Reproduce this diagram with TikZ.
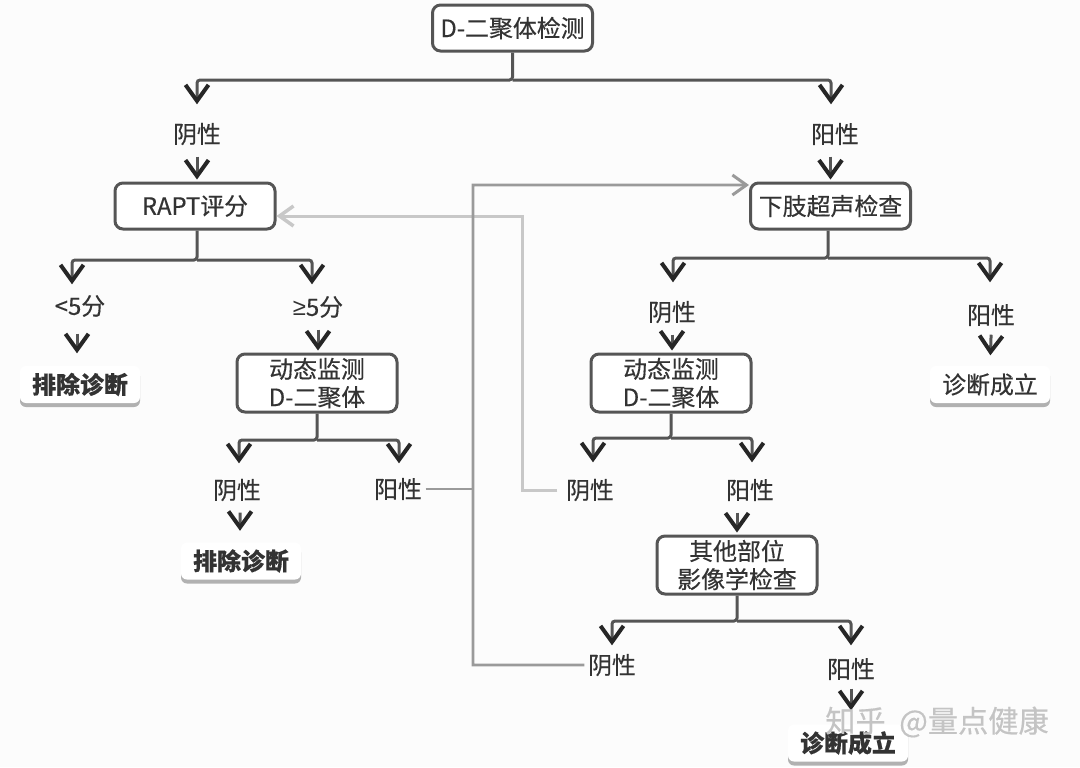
\documentclass[tikz,border=0pt]{standalone}
\usepackage{fontspec}
\setmainfont{Noto Sans CJK SC}[FakeBold=.4]
\newfontfamily\signfont{Liberation Sans}
\usepackage{xcolor}
\usetikzlibrary{arrows.meta, shadows}
\definecolor{inkdark}{HTML}{333333}
\definecolor{linedark}{HTML}{555555}
\definecolor{linemid}{HTML}{9A9A9A}
\definecolor{linelight}{HTML}{C8C8C8}
\definecolor{markgray}{HTML}{C4C4C4}

\begin{document}
\begin{tikzpicture}[
    every node/.style={font=\fontsize{6.8}{8}\selectfont, text=inkdark, align=center},
    test/.style={draw=linedark, line width=.03cm, rounded corners=.08cm, minimum width=1.6cm, minimum height=.46cm, inner sep=0pt, fill=white},
    result/.style={test, minimum height=.58cm},
    verdict/.style={rounded corners=.06cm, minimum width=1.2cm, minimum height=.37cm, inner sep=0pt, fill=white, font=\fontsize{6.8}{8}\selectfont\bfseries,
      drop shadow={shadow xshift=0cm, shadow yshift=-.04cm, fill=gray, opacity=.6}},
    outcome/.style={minimum height=.44cm, inner sep=0pt},
    branch/.style={draw=linedark, line width=.03cm, rounded corners=.03cm, shorten >=.07cm,
      -{Straight Barb[length=.16cm, width=.23cm, line width=.04cm, color=black!85]}},
    onward/.style={branch, shorten >=.02cm},
    again/.style={draw=linemid, line width=.028cm, -{Straight Barb[length=.14cm, width=.2cm, line width=.03cm]}},
    back/.style={draw=linelight, line width=.03cm, -{Straight Barb[length=.14cm, width=.2cm, line width=.035cm]}}
  ]
    \useasboundingbox (0,0) rectangle (10.8,-7.67);
    \fill[white!99!black] (0,0) rectangle (10.8,-7.67);

    \node (dimer) at (5.125,-.28) [test] {D-二聚体检测};
    \node (negA) at (1.97,-1.34) [outcome] {阴性};
    \node (posA) at (8.35,-1.34) [outcome] {阳性};
    \node (rapt) at (1.95,-2.06) [test] {RAPT评分};
    \node (ultra) at (8.305,-2.06) [test] {下肢超声检查};

    \node (low) at (.80,-3.06) [outcome] {<5分};
    \node (high) at (3.18,-3.07) [outcome] {{\signfont ≥}5分};
    \node (ruleA) at (.80,-3.845) [verdict] {排除诊断};
    \node (watchA) at (3.17,-3.83) [result] {动态监测\\D-二聚体};
    \node (negB) at (2.37,-4.90) [outcome] {阴性};
    \node (posB) at (3.98,-4.89) [outcome] {阳性};
    \node (ruleB) at (2.41,-5.61) [verdict] {排除诊断};

    \node (negC) at (6.72,-3.12) [outcome] {阴性};
    \node (posC) at (9.91,-3.15) [outcome] {阳性};
    \node (watchB) at (6.71,-3.83) [result] {动态监测\\D-二聚体};
    \node (confA) at (9.90,-3.845) [verdict, font=\fontsize{6.8}{8}\selectfont] {诊断成立};
    \node (negD) at (5.90,-4.90) [outcome] {阴性};
    \node (posD) at (7.50,-4.90) [outcome] {阳性};
    \node (other) at (7.37,-5.65) [result] {其他部位\\影像学检查};
    \node (negE) at (6.12,-6.65) [outcome] {阴性};
    \node (posE) at (8.51,-6.69) [outcome] {阳性};
    \node (confB) at (8.48,-7.43) [verdict] {诊断成立};

    \coordinate (busDimer) at (5.125,-.80);
    \coordinate (busRapt) at (1.97,-2.60);
    \coordinate (busUltra) at (8.28,-2.58);
    \coordinate (busWatchA) at (3.17,-4.40);
    \coordinate (busWatchB) at (6.71,-4.38);
    \coordinate (busOther) at (7.37,-6.21);
    \coordinate (upTurn) at (4.73,-1.85);
    \coordinate (backTurn) at (5.22,-2.16);

    \draw[back] ([xshift=-.08cm]negD.west) -| (backTurn) -- ([yshift=-.10cm]rapt.east);
    \draw[again] ([xshift=-.03cm]negE.west) -| (upTurn) -- ([yshift=.21cm]ultra.west);
    \draw[draw=linemid, line width=.028cm] ([xshift=.03cm]posB.east) -- (posB.east -| upTurn);

    \draw[branch] (dimer.south) -- (busDimer) -| (negA.north);
    \draw[branch] (busDimer) -| ([xshift=-.04cm]posA.north);
    \draw[onward] (negA.south) -- (negA.south |- rapt.north);
    \draw[onward] (ultra.north |- posA.south) -- (ultra.north);

    \draw[branch, shorten >=-.01cm] (busRapt |- rapt.south) -- (busRapt) -| ([xshift=-.08cm]low.north);
    \draw[branch, shorten >=0cm] (busRapt) -| ([xshift=-.06cm]high.north);
    \draw[branch, shorten <=.05cm, shorten >=.12cm] ([xshift=-.03cm]low.south) -- ([xshift=-.03cm]ruleA.north);
    \draw[onward] (high.south) -- (high.south |- watchA.north);
    \draw[branch, shorten >=.04cm] (watchA.south) -- (busWatchA) -| ([xshift=.02cm]negB.north);
    \draw[branch, shorten >=.03cm] (busWatchA) -| ([xshift=.01cm]posB.north);
    \draw[branch, shorten >=.11cm] ([xshift=.03cm]negB.south) -- ([xshift=-.01cm]ruleB.north);

    \draw[branch] (busUltra |- ultra.south) -- (busUltra) -| ([xshift=.01cm]negC.north);
    \draw[branch, shorten >=.10cm] (busUltra) -| ([xshift=-.01cm]posC.north);
    \draw[onward] (negC.south) -- (negC.south |- watchB.north);
    \draw[branch, shorten <=-.03cm, shorten >=.10cm] (posC.south) -- (confA.north);
    \draw[branch, shorten >=.05cm] (watchB.south) -- (busWatchB) -| ([xshift=.03cm]negD.north);
    \draw[branch, shorten >=.05cm] (busWatchB) -| ([xshift=.02cm]posD.north);
    \draw[onward] (other.north |- posD.south) -- (other.north);
    \draw[branch, shorten >=-.03cm] (other.south) -- (busOther) -| (negE.north);
    \draw[branch, shorten >=.01cm] (busOther) -| (posE.north);
    \draw[branch, shorten <=-.03cm, shorten >=.135cm] (posE.south) -- (confB.north -| posE.south);

    \node (mark) at (9.37,-7.22) [text=markgray, font=\fontsize{8.6}{10}\selectfont] {知乎\ \ @量点健康};
  \end{tikzpicture}
\end{document}
